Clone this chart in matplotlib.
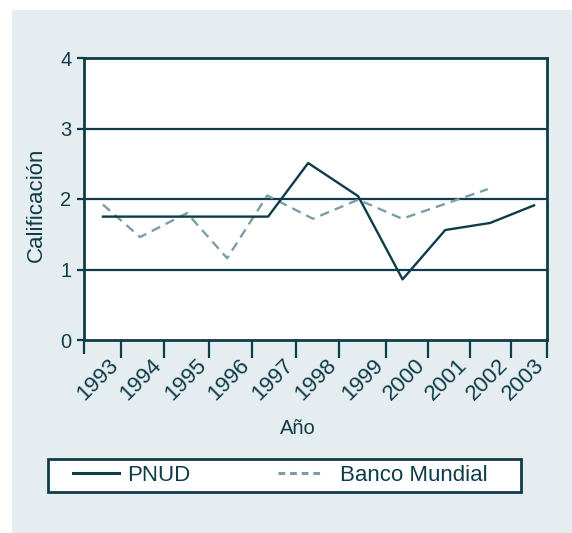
import matplotlib
matplotlib.use('Agg')
import matplotlib.pyplot as plt
import matplotlib.transforms as mtransforms
from matplotlib.patches import Rectangle
from matplotlib.lines import Line2D

plt.rcParams['font.family'] = ['Liberation Sans', 'DejaVu Sans']

DARK = '#0e3c49'
DASH = '#7a9ea8'
BG = '#e6edf1'

# PNUD rating, x read as fractional positions on the year axis
pnud_x = [1993.0, 1994.0, 1995.0, 1996.0, 1996.83, 1997.76, 1998.92, 1999.95, 2000.94, 2001.98, 2003.0]
pnud_y = [1.75, 1.75, 1.75, 1.75, 1.75, 2.51, 2.04, 0.86, 1.56, 1.66, 1.91]

# Banco Mundial rating
bm_x = [1993.0, 1993.86, 1994.95, 1995.88, 1996.81, 1997.87, 1998.92, 1999.94, 2000.93, 2001.93]
bm_y = [1.92, 1.46, 1.80, 1.16, 2.05, 1.72, 1.99, 1.72, 1.93, 2.14]

# x tick positions / labels
xtick_pos = [1993.42, 1994.42, 1995.46, 1996.46, 1997.48, 1998.48, 1999.57, 2000.54, 2001.51, 2002.47, 2003.30]
xtick_lab = ['1993', '1994', '1995', '1996', '1997', '1998', '1999', '2000', '2001', '2002', '2003']
yticks = [0, 1, 2, 3, 4]

W, H = 572, 533
fig = plt.figure(figsize=(W / 100, H / 100), dpi=100, facecolor='white')
fig.patches.append(Rectangle((12 / W, 0), 1 - 12 / W, 1 - 10 / H, transform=fig.transFigure,
                             facecolor=BG, edgecolor='none', zorder=-5))
# legend box
fig.patches.append(Rectangle((48 / W, 1 - 492 / H), (521 - 48) / W, 33 / H, transform=fig.transFigure,
                             facecolor='white', edgecolor=DARK, lw=2.0, zorder=-4))

ax = fig.add_axes([84 / W, 1 - 340 / H, (547 - 84) / W, (340 - 58) / H])
ax.set_facecolor('white')

for yv in [1, 2, 3]:
    ax.axhline(yv, color=DARK, lw=1.6, zorder=1)

ax.plot(pnud_x, pnud_y, color=DARK, lw=1.7, label='PNUD', zorder=3)
ax.plot(bm_x, bm_y, color=DASH, lw=1.7, ls=(0, (4, 2.6)), label='Banco Mundial', zorder=2)

ax.set_xlim(1992.56, 2003.30)
ax.set_ylim(0, 4)

for s in ax.spines.values():
    s.set_color(DARK)
    s.set_linewidth(2.0)

ax.set_yticks(yticks)
ax.set_yticklabels([str(v) for v in yticks])
ax.tick_params(axis='y', length=5, width=1.6, color=DARK, labelcolor=DARK, labelsize=14.5, pad=4)

ax.set_xticks(xtick_pos)
ax.set_xticklabels(xtick_lab, rotation=45, ha='right', va='center', rotation_mode='anchor')
ax.set_xticks([1992.56], minor=True)
ax.tick_params(axis='x', length=13, width=1.6, color=DARK, labelcolor=DARK, labelsize=16, pad=3)
ax.tick_params(axis='x', which='minor', length=10, width=1.6, color=DARK)
shift = mtransforms.ScaledTranslation(-6 / 100, 0, fig.dpi_scale_trans)
for lbl in ax.get_xticklabels():
    lbl.set_transform(lbl.get_transform() + shift)

fig.text(36 / W, 1 - 205 / H, 'Calificación', rotation=90, ha='center', va='center',
         fontsize=16, color=DARK)
fig.text(298 / W, 1 - 428 / H, 'Año', ha='center', va='center', fontsize=14.5, color=DARK)

h1 = Line2D([], [], color=DARK, lw=2.2)
h2 = Line2D([], [], color=DASH, lw=2.2, ls=(0, (2.2, 1.6)))
for h, lab, x0, pad in [(h1, 'PNUD', 73, 0.37), (h2, 'Banco Mundial', 278, 0.75)]:
    lg = fig.legend([h], [lab], loc='center left', bbox_to_anchor=(x0 / W, 1 - 475.5 / H),
                    fontsize=16, frameon=False, handlelength=2.05, handletextpad=pad,
                    borderpad=0, borderaxespad=0)
    for t in lg.get_texts():
        t.set_color(DARK)

fig.savefig('out.png', dpi=100, facecolor='white')
